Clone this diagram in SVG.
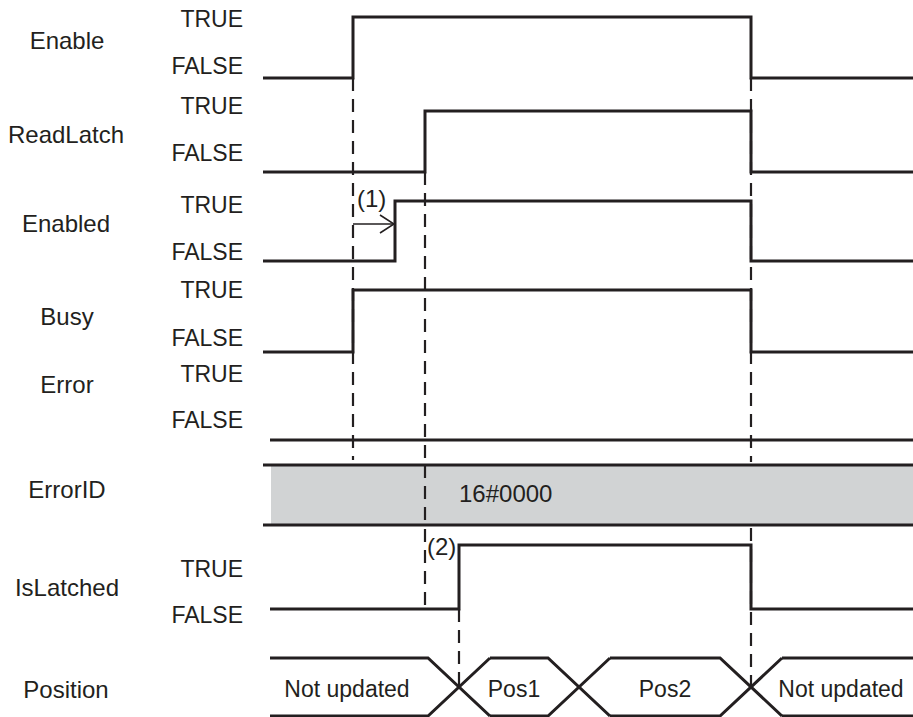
<svg xmlns="http://www.w3.org/2000/svg" width="913" height="717" viewBox="0 0 913 717">
<defs>
<style>
.sig{fill:none;stroke:#231f20;stroke-width:3;stroke-linejoin:miter;stroke-linecap:butt}
.dash{fill:none;stroke:#231f20;stroke-width:2.2;stroke-dasharray:13 8}
.name{font-family:"Liberation Sans",Arial,sans-serif;font-size:24px;fill:#231f20;text-anchor:middle}
.lvl{font-family:"Liberation Sans",Arial,sans-serif;font-size:23px;fill:#231f20;text-anchor:end}
.val{font-family:"Liberation Sans",Arial,sans-serif;font-size:23px;fill:#231f20;text-anchor:middle}
.note{font-family:"Liberation Sans",Arial,sans-serif;font-size:24px;fill:#231f20}
</style>
<marker id="chev" viewBox="0 0 16 20" refX="15" refY="10" markerWidth="16" markerHeight="20" markerUnits="userSpaceOnUse" orient="auto">
<path d="M1,1 L15,10 L1,19" fill="none" stroke="#231f20" stroke-width="1.6"/>
</marker>
</defs>
<rect width="913" height="717" fill="#ffffff"/>

<g id="connectors">
<line class="dash" x1="353" y1="78" x2="353" y2="460"/>
<line class="dash" x1="425" y1="172" x2="425" y2="609"/>
<line class="dash" x1="459" y1="609" x2="459" y2="687"/>
<line class="dash" x1="751" y1="78" x2="751" y2="462"/>
<line class="dash" x1="751" y1="528" x2="751" y2="687"/>
<line x1="353" y1="224" x2="394" y2="224" stroke="#231f20" stroke-width="1.6" marker-end="url(#chev)"/>
<text class="note" x="357" y="207">(1)</text>
<text class="note" x="427" y="555">(2)</text>
</g>

<g id="enable">
<text class="name" x="67" y="49">Enable</text>
<text class="lvl" x="243" y="27">TRUE</text>
<text class="lvl" x="243" y="74">FALSE</text>
<polyline class="sig" points="263,78 353,78 353,17 751,17 751,78 913,78"/>
</g>

<g id="readlatch">
<text class="name" x="66" y="143">ReadLatch</text>
<text class="lvl" x="243" y="114">TRUE</text>
<text class="lvl" x="243" y="161">FALSE</text>
<polyline class="sig" points="263,172 425,172 425,111 751,111 751,172 913,172"/>
</g>

<g id="enabled">
<text class="name" x="66" y="232">Enabled</text>
<text class="lvl" x="243" y="213">TRUE</text>
<text class="lvl" x="243" y="260">FALSE</text>
<polyline class="sig" points="263,261 395,261 395,201 751,201 751,261 913,261"/>
</g>

<g id="busy">
<text class="name" x="67" y="325">Busy</text>
<text class="lvl" x="243" y="298">TRUE</text>
<text class="lvl" x="243" y="346">FALSE</text>
<polyline class="sig" points="263,352 353,352 353,290 751,290 751,352 913,352"/>
</g>

<g id="error">
<text class="name" x="67" y="393">Error</text>
<text class="lvl" x="243" y="382">TRUE</text>
<text class="lvl" x="243" y="428">FALSE</text>
<line class="sig" x1="270" y1="440" x2="913" y2="440"/>
</g>

<g id="errorid">
<text class="name" x="67" y="498">ErrorID</text>
<rect x="271" y="465" width="642" height="60" fill="#d1d3d4"/>
<line class="dash" x1="425" y1="465" x2="425" y2="525"/>
<line class="sig" x1="263" y1="465" x2="913" y2="465"/>
<line class="sig" x1="263" y1="525" x2="913" y2="525"/>
<text class="note" x="459" y="502">16#0000</text>
</g>

<g id="islatched">
<text class="name" x="67" y="596">IsLatched</text>
<text class="lvl" x="243" y="577">TRUE</text>
<text class="lvl" x="243" y="623">FALSE</text>
<polyline class="sig" points="270,609 459,609 459,545 751,545 751,609 913,609"/>
</g>

<g id="position">
<text class="name" x="66" y="698">Position</text>
<polyline class="sig" points="270,658 428,658 490,716"/>
<polyline class="sig" points="270,716 428,716 490,658"/>
<polyline class="sig" points="490,658 548,658 610,716"/>
<polyline class="sig" points="490,716 548,716 610,658"/>
<polyline class="sig" points="610,658 720,658 782,716"/>
<polyline class="sig" points="610,716 720,716 782,658"/>
<polyline class="sig" points="782,658 913,658"/>
<polyline class="sig" points="782,716 913,716"/>
<text class="val" x="347" y="697">Not updated</text>
<text class="val" x="514" y="697">Pos1</text>
<text class="val" x="665" y="697">Pos2</text>
<text class="val" x="841" y="697">Not updated</text>
</g>
</svg>
